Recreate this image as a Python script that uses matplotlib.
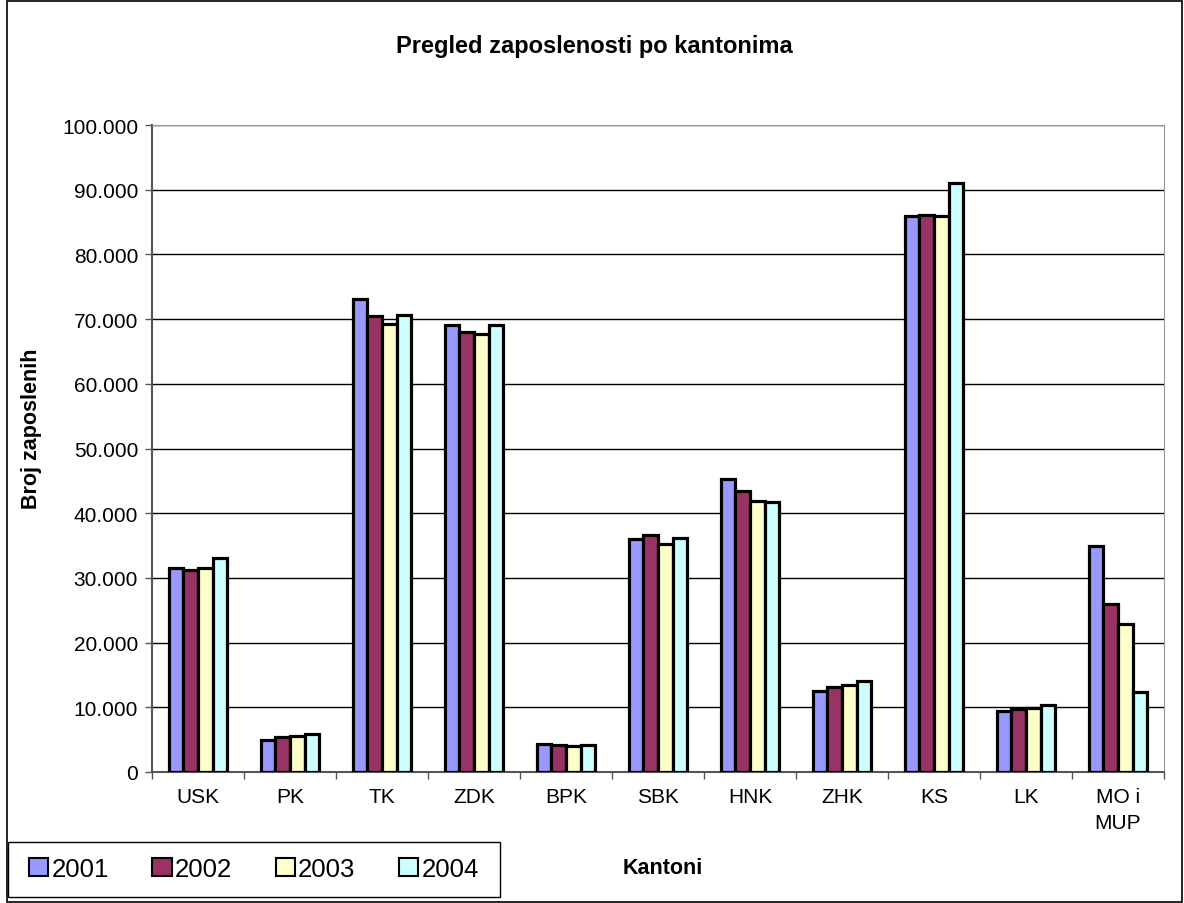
import matplotlib.pyplot as plt
import matplotlib.ticker as plticker
from matplotlib.patches import Rectangle
import numpy as np

plt.rcParams['font.family'] = ['Liberation Sans', 'DejaVu Sans']

kantoni = ['USK', 'PK', 'TK', 'ZDK', 'BPK', 'SBK', 'HNK', 'ZHK', 'KS', 'LK', 'MO i\nMUP']
godine = ['2001', '2002', '2003', '2004']
v2001 = [31600, 5000, 73100, 69100, 4300, 36000, 45300, 12500, 85900, 9500, 35000]
v2002 = [31200, 5400, 70500, 68000, 4200, 36600, 43500, 13200, 86100, 9800, 25900]
v2003 = [31500, 5600, 69200, 67700, 4000, 35300, 41900, 13400, 85900, 9900, 22900]
v2004 = [33000, 5900, 70600, 69100, 4200, 36200, 41700, 14000, 91000, 10300, 12300]
boje = ['#9999FF', '#993366', '#FFFFCC', '#CCFFFF']

fig = plt.figure(figsize=(11.84, 9.04), dpi=100)
ax = fig.add_axes([152/1184, 1 - 773/904, 1012/1184, 647/904])

x = np.arange(len(kantoni))
w = 0.158
for i, (serija, boja) in enumerate(zip([v2001, v2002, v2003, v2004], boje)):
    ax.bar(x + (i - 1.5) * w, serija, w, color=boja, edgecolor='black',
           linewidth=2.3, label=godine[i], zorder=3)

ax.set_xlim(-0.5, len(kantoni) - 0.5)
ax.set_ylim(0, 100000)
ax.yaxis.set_major_locator(plticker.MultipleLocator(10000))
ax.yaxis.set_major_formatter(plticker.FuncFormatter(
    lambda v, p: '0' if v == 0 else f'{int(v):,}'.replace(',', '.')))
ax.grid(axis='y', color='black', linewidth=1, zorder=0)

ax.set_xticks(x)
ax.set_xticklabels(kantoni, fontsize=15, linespacing=1.45)
ax.set_xticks(np.arange(len(kantoni) + 1) - 0.5, minor=True)
ax.tick_params(axis='x', which='major', length=0, pad=11)
ax.tick_params(axis='x', which='minor', length=5, width=1, color='#555555')
ax.tick_params(axis='y', labelsize=15, length=5, width=1, color='#555555', pad=5)

for s in ['top', 'right']:
    ax.spines[s].set_color('#999999')
for s in ['left', 'bottom']:
    ax.spines[s].set_color('#555555')
    ax.spines[s].set_linewidth(1.5)

fig.text(594/1184, 1 - 47/904, 'Pregled zaposlenosti po kantonima', ha='center',
         va='center', fontsize=17, fontweight='bold')
fig.text(32/1184, 1 - 429/904, 'Broj zaposlenih', rotation=90, ha='center',
         va='center', fontsize=15.5, fontweight='bold')
fig.text(663/1184, 1 - 869/904, 'Kantoni', ha='center', va='center',
         fontsize=15.5, fontweight='bold')

# legend box drawn by hand, legend itself without frame
fig.patches.append(Rectangle((8/1184, 1 - 898/904), 492/1184, 55/904, transform=fig.transFigure,
                             fill=False, edgecolor='black', linewidth=1))
leg = fig.legend(loc='center left', bbox_to_anchor=(29/1184, 1 - 870/904),
                 ncol=4, fontsize=18.5, frameon=False,
                 handlelength=0.75, handleheight=0.75, handletextpad=0.12,
                 borderaxespad=0, columnspacing=1.7, borderpad=0)
for h in leg.legend_handles:
    h.set_linewidth(1.5)

fig.patches.append(Rectangle((7/1184, 1/904), 1175/1184, 901/904, transform=fig.transFigure,
                             fill=False, edgecolor='black', linewidth=1.2))

fig.savefig('out.png', dpi=100)
